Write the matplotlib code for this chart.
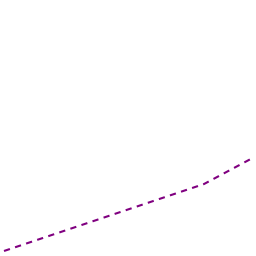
import matplotlib
matplotlib.use('Agg')
import matplotlib.pyplot as plt

# values
x = [0, 4, 5]
y = [1.0, 3.5, 4.5]

fig = plt.figure(figsize=(2.56, 2.56), dpi=100)
ax = fig.add_axes([0, 0, 1, 1])
ax.plot(x, y, color='#800080', lw=1.5, linestyle=(0, (3.0, 2.6)))
ax.set_xlim(-0.08, 5.04)
ax.set_ylim(0.813, 10.37)
ax.axis('off')
fig.savefig('out.png', dpi=100, facecolor='white')
